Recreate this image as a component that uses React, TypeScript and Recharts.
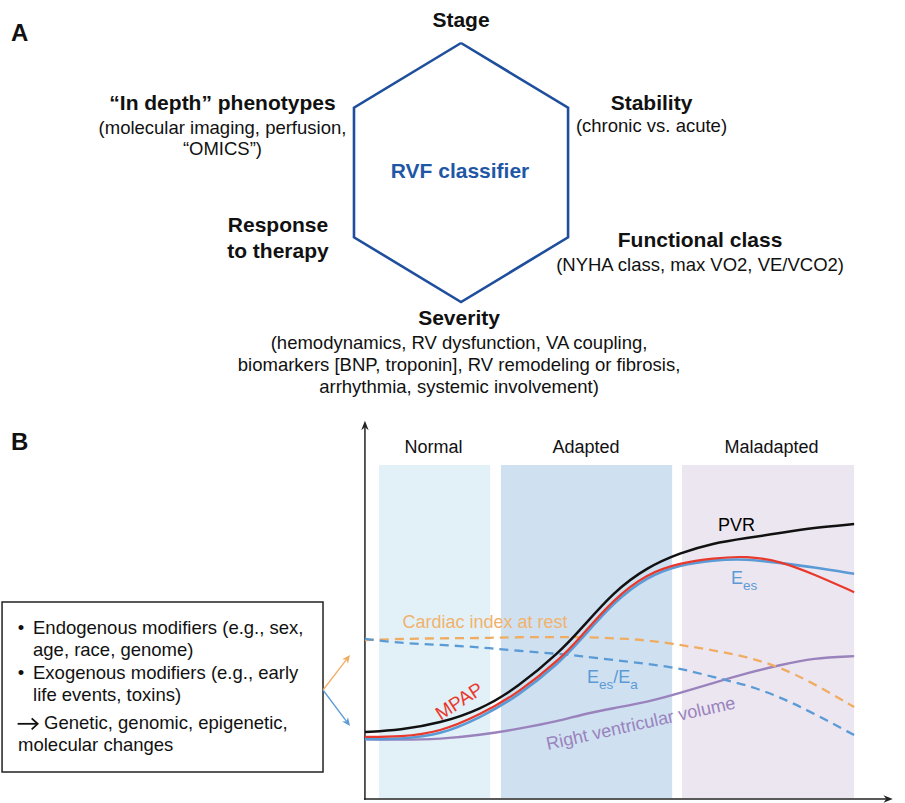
import {
  ComposedChart,
  Line,
  ReferenceArea,
  ReferenceLine,
  Scatter,
  XAxis,
  YAxis,
} from 'recharts';

const FONT = '"Liberation Sans", Arial, Helvetica, sans-serif';

// ---------- panel A: the classifier hexagon (unit hexagon, pointy top) ----------
const hexX = [0, 0.866, 0.866, 0, -0.866, -0.866, 0];
const hexY = [1, 0.5, -0.5, -1, -0.5, 0.5, 1];

// ---------- panel B: disease course curves ----------
const courseX = [0, 7.2, 15.4, 23.5, 31.3, 39.9, 44.0, 50.8, 57.7, 64.4, 71.1, 78.1, 84.8, 91.6, 100];
const pvr = [17.9, 18.4, 20.3, 23.8, 29.9, 39.4, 45.2, 55.4, 62.0, 65.8, 68.4, 69.8, 71.1, 72.5, 73.5];
const mpap = [16.6, 16.6, 17.9, 22.5, 28.3, 37.4, 43.2, 53.4, 60.3, 63.1, 64.4, 65.0, 63.6, 60.2, 55.3];
const ees = [16.0, 16.0, 17.1, 21.7, 27.5, 36.6, 42.4, 52.6, 59.5, 62.6, 63.9, 64.2, 63.1, 62.0, 60.2];
const cardiacIndex = [42.5, 42.8, 43.0, 43.0, 43.3, 43.3, 43.3, 43.0, 42.5, 41.2, 39.8, 38.0, 35.3, 31.0, 24.6];
const eesEa = [42.8, 41.7, 41.2, 40.6, 39.6, 38.8, 38.2, 37.2, 36.1, 35.0, 32.6, 30.5, 27.3, 23.0, 17.1];
const rvVolume = [16.0, 15.8, 16.0, 17.1, 18.7, 20.9, 22.5, 24.3, 25.9, 28.3, 31.0, 33.7, 35.8, 37.7, 38.2];

const stageNames = ['Normal', 'Adapted', 'Maladapted'];
const stageFrom = [2.9, 27.8, 64.8];
const stageTo = [25.6, 62.8, 100];
const stageTop = 89.3;

const boxLines = [
  'Endogenous modifiers (e.g., sex,',
  'age, race, genome)',
  'Exogenous modifiers (e.g., early',
  'life events, toxins)',
];
const boxTail = ['Genetic, genomic, epigenetic,', 'molecular changes'];

// ---------- styles ----------
const C = {
  hex: '#1f4f9c',
  rvf: '#1f57a6',
  pvr: '#111111',
  mpap: '#e8392c',
  ees: '#5b9bd5',
  ci: '#f0ad62',
  ciText: '#f0b36e',
  rv: '#9a83bd',
  stage: ['#e2f0f8', '#cfe0f1', '#ece6f1'],
};

type Seg = string | { sub: string };
interface Note {
  x: number;
  y: number;
  text: Seg[];
  size: number;
  color?: string;
  bold?: boolean;
  anchor?: 'start' | 'middle' | 'end';
  angle?: number;
}

const HB = 21;
const TN = 18.5;

// annotation layout, panel A (hexagon units)
const notesA: Note[] = [
  { x: -3.641, y: 1.077, text: ['A'], size: 24, bold: true, anchor: 'start' },
  { x: 0, y: 1.178, text: ['Stage'], size: HB, bold: true },
  { x: -1.93, y: 0.537, text: ['“In depth” phenotypes'], size: HB, bold: true },
  { x: -1.93, y: 0.351, text: ['(molecular imaging, perfusion,'], size: TN },
  { x: -1.93, y: 0.189, text: ['“OMICS”)'], size: TN },
  { x: -1.481, y: -0.405, text: ['Response'], size: HB, bold: true },
  { x: -1.481, y: -0.606, text: ['to therapy'], size: HB, bold: true },
  { x: -0.008, y: 0.012, text: ['RVF classifier'], size: HB, bold: true, color: C.rvf },
  { x: 1.541, y: 0.537, text: ['Stability'], size: HB, bold: true },
  { x: 1.541, y: 0.359, text: ['(chronic vs. acute)'], size: TN },
  { x: 1.934, y: -0.521, text: ['Functional class'], size: HB, bold: true },
  { x: 1.934, y: -0.707, text: ['(NYHA class, max VO2, VE/VCO2)'], size: TN },
  { x: -0.016, y: -1.124, text: ['Severity'], size: HB, bold: true },
  { x: -0.016, y: -1.309, text: ['(hemodynamics, RV dysfunction, VA coupling,'], size: TN },
  { x: -0.016, y: -1.479, text: ['biomarkers [BNP, troponin], RV remodeling or fibrosis,'], size: TN },
  { x: -0.016, y: -1.649, text: ['arrhythmia, systemic involvement)'], size: TN },
];

// annotation layout, panel B (chart units)
const notesB: Note[] = [
  { x: -72.34, y: 95.45, text: ['B'], size: 24, bold: true, anchor: 'start' },
  { x: 14.02, y: 94.12, text: [stageNames[0]], size: 18 },
  { x: 45.2, y: 94.12, text: [stageNames[1]], size: 18 },
  { x: 83.11, y: 94.12, text: [stageNames[2]], size: 18 },
  { x: 75.96, y: 73.26, text: ['PVR'], size: 18, color: '#000' },
  { x: 74.84, y: 59.09, text: ['E', { sub: 'es' }], size: 18, color: C.ees, anchor: 'start' },
  { x: 24.55, y: 47.33, text: ['Cardiac index at rest'], size: 18, color: C.ciText },
  { x: 45.4, y: 32.62, text: ['E', { sub: 'es' }, '/E', { sub: 'a' }], size: 18, color: C.ees, anchor: 'start' },
  { x: 19.23, y: 26.2, text: ['MPAP'], size: 19, color: C.mpap, angle: -33 },
  { x: 56.38, y: 20.32, text: ['Right ventricular volume'], size: 18, color: C.rv, angle: -12.5 },
  { x: -70.3, y: 45.72, text: ['•'], size: 18.5 },
  { x: -70.3, y: 33.69, text: ['•'], size: 18.5 },
  ...boxLines.map((t, i) => ({
    x: -67.85,
    y: [45.72, 39.84, 33.69, 27.81][i],
    text: [t],
    size: 18.5,
    anchor: 'start' as const,
  })),
  ...boxTail.map((t, i) => ({
    x: [-65.6, -70.91][i],
    y: [20.32, 14.44][i],
    text: [t],
    size: 18.5,
    anchor: 'start' as const,
  })),
];

function renderNote(p: any) {
  const n: Note = p.payload;
  const { cx, cy } = p;
  if (cx == null || cy == null || !n) return <g />;
  const parts: any[] = [];
  let lowered = false;
  n.text.forEach((s, i) => {
    if (typeof s === 'string') {
      parts.push(
        <tspan key={i} dy={lowered ? -n.size * 0.3 : undefined}>
          {s}
        </tspan>,
      );
      lowered = false;
    } else {
      parts.push(
        <tspan key={i} dy={n.size * 0.3} fontSize={n.size * 0.75}>
          {s.sub}
        </tspan>,
      );
      lowered = true;
    }
  });
  return (
    <text
      x={cx}
      y={cy}
      dy="0.35em"
      textAnchor={n.anchor ?? 'middle'}
      fontSize={n.size}
      fontWeight={n.bold ? 700 : 400}
      fill={n.color ?? '#111'}
      fontFamily={FONT}
      transform={n.angle ? `rotate(${n.angle} ${cx} ${cy})` : undefined}
    >
      {parts}
    </text>
  );
}

function arrowShape(color: string, width: number, head: number, spread: number) {
  return (p: any) => {
    const { x1, y1, x2, y2 } = p;
    if ([x1, y1, x2, y2].some((v) => v == null || Number.isNaN(v))) return <g />;
    const a = Math.atan2(y2 - y1, x2 - x1);
    const l = [x2 - head * Math.cos(a + spread), y2 - head * Math.sin(a + spread)];
    const r = [x2 - head * Math.cos(a - spread), y2 - head * Math.sin(a - spread)];
    const n = [x2 - head * 0.65 * Math.cos(a), y2 - head * 0.65 * Math.sin(a)];
    return (
      <g>
        <line x1={x1} y1={y1} x2={n[0]} y2={n[1]} stroke={color} strokeWidth={width} />
        <polygon points={`${x2},${y2} ${l[0]},${l[1]} ${n[0]},${n[1]} ${r[0]},${r[1]}`} fill={color} />
      </g>
    );
  };
}

// open "→" style arrow used in the text box
function openArrow(p: any) {
  const { x1, y1, x2, y2 } = p;
  if ([x1, y1, x2, y2].some((v) => v == null || Number.isNaN(v))) return <g />;
  return (
    <g stroke="#111" strokeWidth={1.8} fill="none">
      <line x1={x1} y1={y1} x2={x2 - 1} y2={y2} />
      <polyline points={`${x2 - 6},${y2 - 5.5} ${x2},${y2} ${x2 - 6},${y2 + 5.5}`} />
    </g>
  );
}

const toRows = (ys: number[]) => courseX.map((x, i) => ({ x, y: ys[i] }));

function PanelA() {
  const hex = hexX.map((x, i) => ({ x, y: hexY[i] }));
  return (
    <ComposedChart width={905} height={405} margin={{ top: 0, right: 0, bottom: 0, left: 0 }}>
      <XAxis type="number" dataKey="x" domain={[-3.73, 3.592]} hide allowDataOverflow />
      <YAxis type="number" dataKey="y" domain={[-1.795, 1.332]} hide allowDataOverflow />
      <Line
        data={hex}
        dataKey="y"
        type="linear"
        stroke={C.hex}
        strokeWidth={2.6}
        strokeLinejoin="miter"
        dot={false}
        activeDot={false}
        isAnimationActive={false}
      />
      <Scatter data={notesA} shape={renderNote} isAnimationActive={false} />
    </ComposedChart>
  );
}

function PanelB() {
  const curve = { type: 'basis' as const, dot: false, activeDot: false, isAnimationActive: false, dataKey: 'y' };
  return (
    <ComposedChart width={905} height={403} margin={{ top: 0, right: 0, bottom: 0, left: 0 }}>
      <XAxis type="number" dataKey="x" domain={[-74.6, 110.4]} hide allowDataOverflow />
      <YAxis type="number" dataKey="y" domain={[-1.07, 106.68]} hide allowDataOverflow />
      {stageNames.map((name, i) => (
        <ReferenceArea
          key={name}
          x1={stageFrom[i]}
          x2={stageTo[i]}
          y1={0.3}
          y2={stageTop}
          fill={C.stage[i]}
          fillOpacity={1}
          stroke="none"
        />
      ))}
      <ReferenceArea
        x1={-74.18}
        x2={-8.57}
        y1={7.22}
        y2={52.67}
        fill="#fff"
        fillOpacity={1}
        stroke="#222"
        strokeWidth={1.5}
      />
      <ReferenceLine segment={[{ x: -71.0, y: 20.1 }, { x: -66.9, y: 20.1 }]} shape={openArrow} />
      <ReferenceLine
        segment={[{ x: -8.57, y: 29.14 }, { x: -3.05, y: 38.5 }]}
        shape={arrowShape(C.ci, 1.3, 9, 0.42)}
      />
      <ReferenceLine
        segment={[{ x: -8.57, y: 29.14 }, { x: -3.05, y: 19.52 }]}
        shape={arrowShape(C.ees, 1.3, 9, 0.42)}
      />
      <ReferenceLine
        segment={[{ x: 0, y: -0.2 }, { x: 0, y: 101.1 }]}
        shape={arrowShape('#222', 1.5, 10, 0.38)}
      />
      <ReferenceLine
        segment={[{ x: -0.2, y: 0 }, { x: 107.9, y: 0 }]}
        shape={arrowShape('#222', 1.5, 10, 0.38)}
      />
      <Line {...curve} data={toRows(rvVolume)} stroke={C.rv} strokeWidth={2.4} />
      <Line {...curve} data={toRows(cardiacIndex)} stroke={C.ci} strokeWidth={2.3} strokeDasharray="9 6" />
      <Line {...curve} data={toRows(eesEa)} stroke={C.ees} strokeWidth={2.3} strokeDasharray="9 6" />
      <Line {...curve} data={toRows(ees)} stroke={C.ees} strokeWidth={2.6} />
      <Line {...curve} data={toRows(mpap)} stroke={C.mpap} strokeWidth={2.2} />
      <Line {...curve} data={toRows(pvr)} stroke={C.pvr} strokeWidth={2.5} />
      <Scatter data={notesB} shape={renderNote} isAnimationActive={false} />
    </ComposedChart>
  );
}

export default function App() {
  return (
    <div
      style={{
        position: 'absolute',
        left: 0,
        top: 0,
        width: 905,
        height: 803,
        background: '#fff',
        fontFamily: FONT,
      }}
    >
      <div style={{ position: 'absolute', left: 0, top: 0 }}>
        <PanelA />
      </div>
      <div style={{ position: 'absolute', left: 0, top: 400 }}>
        <PanelB />
      </div>
    </div>
  );
}
